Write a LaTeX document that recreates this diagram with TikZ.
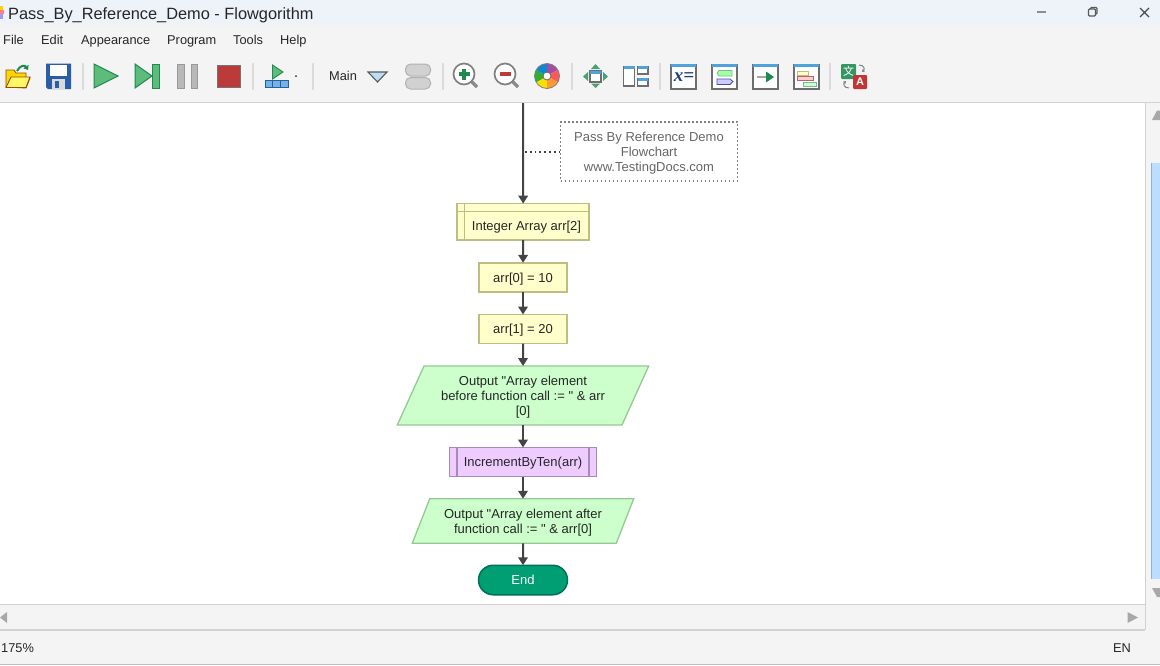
\documentclass[tikz,border=0pt]{standalone}
\usepackage{fontspec}
\setmainfont{Liberation Sans}[Ligatures=TeXOff]
\newfontfamily\cjkfont{Noto Sans CJK SC}
\newfontfamily\serifx{Liberation Serif}
\usetikzlibrary{shapes.geometric,shapes.misc,arrows.meta}
\definecolor{flowline}{HTML}{444444}
\definecolor{yfill}{HTML}{FFFFCC}
\definecolor{yedge}{HTML}{BDBD85}
\definecolor{gfill}{HTML}{CCFFCC}
\definecolor{gedge}{HTML}{96C896}
\definecolor{pfill}{HTML}{EECCFF}
\definecolor{pedge}{HTML}{A58CB4}
\definecolor{efill}{HTML}{009E73}
\definecolor{eedge}{HTML}{00705A}
\definecolor{chrome}{HTML}{F4F4F4}
\definecolor{titlebg}{HTML}{EEF3FA}
\definecolor{rulec}{HTML}{D2D2D2}
\definecolor{sbgrey}{HTML}{A8A8A8}
\definecolor{thumb}{HTML}{BBDDFF}
\definecolor{icongreen}{HTML}{5DBB7C}
\definecolor{icondark}{HTML}{1E8A50}
\definecolor{iconblue}{HTML}{4FA3DC}
\definecolor{icongrey}{HTML}{6E6E6E}
\definecolor{saveblue}{HTML}{2A5CA8}
\definecolor{stopred}{HTML}{BB3B3B}
\definecolor{tblue}{HTML}{BBDDF5}
\tikzset{
  x=1pt,y=-1pt,
  flowtext/.style={font=\fontsize{13}{15}\selectfont,text=black!85,inner sep=0pt,outer sep=0pt,align=center},
  procbox/.style={rectangle,inner sep=0pt,outer sep=0pt,draw=yedge,fill=yfill,line width=1.6pt},
  callbox/.style={rectangle,inner sep=0pt,outer sep=0pt,draw=pedge,fill=pfill,line width=1.6pt},
  outbox/.style={flowtext,trapezium,trapezium stretches=true,trapezium left angle=63.8,trapezium right angle=116.2,draw=gedge,fill=gfill,line width=1.3pt},
  endbox/.style={flowtext,text=white,rounded rectangle,draw=eedge,fill=efill,line width=1.5pt},
  notebox/.style={rectangle,inner sep=0pt,outer sep=0pt,draw=black!50,line width=1.6pt,dash pattern=on 1.8pt off 2.2pt},
  flow/.style={draw=flowline,line width=2pt,-{Triangle[width=9.5pt,length=8pt]}},
  uitext/.style={font=\fontsize{12.8}{15}\selectfont,text=black!85,inner sep=0pt,anchor=base west},
  sep/.style={draw=black!14,line width=1.1pt},
  winframe/.style={draw=icongrey,line width=1.2pt,fill=white},
}
\newcommand{\winicon}[1]{%
  \draw[winframe] (#1,64.5) rectangle ++(25,24.5);
  \fill[iconblue] (#1,64) rectangle ++(25,3);
}
\newcommand{\lowered}[1]{\raisebox{-1.8pt}[\height][\depth]{\begin{tabular}{@{}c@{}}#1\end{tabular}}}
\begin{document}
\begin{tikzpicture}
\useasboundingbox (0,0) rectangle (1160,665);
% window chrome
\fill[white] (0,0) rectangle (1160,665);
\fill[titlebg] (0,0) rectangle (1160,25);
\fill[chrome] (0,25) rectangle (1160,102);
\draw[rulec,line width=1.2pt] (0,102.5) -- (1160,102.5);
% title icon
\fill[yellow!70!orange] (0,6) rectangle (3,10);
\fill[red!50] (0,10) rectangle (4,14);
\fill[blue!40] (0,14) rectangle (3,19);
\node[anchor=base west,inner sep=0pt,font=\fontsize{16.35}{20}\selectfont,text=black!85] (title) at (8,19) {Pass\_By\_Reference\_Demo - Flowgorithm};
% window buttons
\draw[black!45,line width=1.3pt] (1037,12) -- (1046,12);
\draw[black!65,line width=1.1pt,rounded corners=1pt] (1088.5,9) rectangle (1095.5,16);
\draw[black!65,line width=1.1pt,rounded corners=1pt] (1090.5,9) -- (1090.5,7.5) -- (1097,7.5) -- (1097,14) -- (1095.5,14);
\draw[black!70,line width=1.1pt] (1140,8) -- (1149,17) (1149,8) -- (1140,17);
% menu
\node[uitext] (m1) at (3,44.5) {File};
\node[uitext] (m2) at (41,44.5) {Edit};
\node[uitext] (m3) at (81,44.5) {Appearance};
\node[uitext] (m4) at (167,44.5) {Program};
\node[uitext] (m5) at (233,44.5) {Tools};
\node[uitext] (m6) at (280,44.5) {Help};
% separators
\foreach \s in {83,253,313,443,572,660,830} \draw[sep] (\s,63) -- (\s,90);
% open
\draw[draw=orange!60!black,fill=yellow!75!orange,line width=.9pt] (6,87) -- (6,70) -- (14,70) -- (16,73) -- (26,73) -- (26,78) -- (30,78) -- (26,88) -- cycle;
\draw[draw=orange!60!black,fill=yellow!60,line width=.9pt] (6,87.5) -- (11,77) -- (30,77) -- (26,87.5) -- cycle;
\draw[icondark,line width=2pt,-{Triangle[width=6pt,length=4pt]}] (17,71) .. controls (20,65) and (25,65) .. (28,70);
% save
\fill[saveblue] (46,63.5) -- (71,63.5) -- (71,89) -- (48,89) -- (46,87) -- cycle;
\fill[white] (50,65) rectangle (67,76);
\fill[black!15] (52,79) rectangle (65,89);
\fill[saveblue] (55,81) rectangle (59,88);
% play etc
\draw[draw=icondark,fill=icongreen,line width=1pt] (94,64) -- (118,76) -- (94,88) -- cycle;
\draw[draw=icondark,fill=icongreen,line width=1pt] (135,64) -- (152,76) -- (135,88) -- cycle;
\draw[draw=icondark,fill=icongreen,line width=1pt] (152,64) rectangle (159,88);
\draw[draw=black!40,fill=black!28,line width=1pt] (177.5,64) rectangle (184,88);
\draw[draw=black!40,fill=black!28,line width=1pt] (191,64) rectangle (197.5,88);
\draw[draw=black!55,fill=stopred,line width=1pt] (217,65) rectangle (240,87.5);
% run speed
\draw[draw=icondark,fill=icongreen,line width=.9pt] (272.5,65) -- (283,72) -- (272.5,79) -- cycle;
\draw[draw=saveblue,fill=iconblue!80!white,line width=.9pt] (265,80) rectangle (288,87.5);
\draw[saveblue,line width=.9pt] (272.5,80) -- (272.5,87.5) (280.5,80) -- (280.5,87.5);
\fill[black!80] (296,76) circle (1pt);
% function selector
\node[uitext] (mainlabel) at (329,80.5) {Main};
\draw[draw=black!65,fill=tblue,line width=1.1pt] (368,72) -- (387,72) -- (377.5,82) -- cycle;
\draw[draw=black!30,fill=black!18,line width=1pt,rounded corners=5pt] (405.5,64) rectangle (430.5,76);
\draw[draw=black!30,fill=black!18,line width=1pt,rounded corners=5pt] (405.5,77.5) rectangle (430.5,89);
% zoom in / out
\draw[draw=black!45,line width=3.2pt] (471,81) -- (477,87);
\draw[draw=black!50,fill=white,line width=1.7pt] (464,74) circle (10.5);
\fill[icondark] (458.5,72) rectangle (469.5,76);
\fill[icondark] (462,68.5) rectangle (466,79.5);
\draw[draw=black!45,line width=3.2pt] (512,81) -- (518,87);
\draw[draw=black!50,fill=white,line width=1.7pt] (505,74) circle (10.5);
\fill[stopred] (499.5,72) rectangle (510.5,76);
% palette
\fill[violet!70!white] (547,76) -- +(-90:12.5) arc (-90:-30:12.5) -- cycle;
\fill[red!65!white] (547,76) -- +(-30:12.5) arc (-30:30:12.5) -- cycle;
\fill[orange!80!white] (547,76) -- +(30:12.5) arc (30:90:12.5) -- cycle;
\fill[yellow!80!orange] (547,76) -- +(90:12.5) arc (90:150:12.5) -- cycle;
\fill[green!60!black!80!white] (547,76) -- +(150:12.5) arc (150:210:12.5) -- cycle;
\fill[cyan!70!blue] (547,76) -- +(210:12.5) arc (210:270:12.5) -- cycle;
\draw[black!50,line width=.8pt] (547,76) circle (12.5);
\draw[black!60,fill=white,line width=.8pt] (547,76) circle (4);
% fit to view
\draw[winframe] (590,71) rectangle (601,82);
\fill[iconblue] (590,71) rectangle (601,73.5);
\fill[icondark!80!white] (595.5,64) -- (600,69) -- (591,69) -- cycle;
\fill[icondark!80!white] (595.5,88) -- (600,83.5) -- (591,83.5) -- cycle;
\fill[icondark!80!white] (583,76.5) -- (588,72) -- (588,81) -- cycle;
\fill[icondark!80!white] (608,76.5) -- (603,72) -- (603,81) -- cycle;
% layout
\draw[winframe] (623.5,66.5) rectangle (634.5,86);
\fill[iconblue] (623.5,66) rectangle (634.5,68.5);
\draw[winframe] (637.5,66.5) rectangle (648,74);
\fill[iconblue] (637.5,66) rectangle (648,68.5);
\draw[winframe] (637.5,78.5) rectangle (648,86);
\fill[iconblue] (637.5,78) rectangle (648,80.5);
% window icons
\winicon{671}
\node[inner sep=0pt,font=\serifx\bfseries\itshape\fontsize{19}{19}\selectfont,text=saveblue!70!black] (xeq) at (684,77.5) {x=};
\winicon{712}
\draw[draw=icondark!60!white,fill=gfill!80!green,line width=.8pt] (719,70.5) -- (732,70.5) -- (732,76) -- (719,76) -- (717,73) -- cycle;
\draw[draw=blue!50!black!70!white,fill=blue!20,line width=.8pt] (717,79) -- (730,79) -- (733,81.5) -- (730,84.5) -- (717,84.5) -- cycle;
\winicon{753}
\draw[black!35,line width=1.2pt] (757,77) -- (767,77);
\fill[icondark] (766,71.5) -- (774,77) -- (766,82.5) -- cycle;
\winicon{794}
\draw[draw=yedge,fill=yfill,line width=.9pt] (797.5,71) rectangle (808,75);
\draw[draw=red!50!black!60!white,fill=red!20,line width=.9pt] (797.5,76.5) rectangle (813,80.5);
\draw[draw=icondark!60!white,fill=gfill,line width=.9pt] (803,82) rectangle (816,86);
% translate
\fill[icondark!90!white,rounded corners=1pt] (841,64) rectangle (856,79);
\node[inner sep=0pt,text=white,font=\cjkfont\fontsize{11}{11}\selectfont] (zh) at (848.5,71.5) {文};
\draw[black!50,line width=1pt,-{Triangle[width=3pt,length=2.5pt]}] (859,65) .. controls (864,65) and (865,69) .. (862,72);
\draw[black!50,line width=1pt,-{Triangle[width=3pt,length=2.5pt]}] (849,88) .. controls (844,88) and (843,84) .. (846,81);
\fill[stopred!90!red,rounded corners=1pt] (853,75) rectangle (867,89);
\node[inner sep=0pt,text=white,font=\bfseries\fontsize{11}{11}\selectfont] (en) at (860,82) {A};
% scrollbars
\fill[chrome] (1146,103) rectangle (1160,631);
\draw[rulec,line width=.8pt] (1145.5,103) -- (1145.5,605);
\fill[sbgrey] (1157,110.5) -- (1160,110.5) -- (1160,120) -- (1152,120) -- cycle;
\fill[thumb] (1151,163) rectangle (1160,579);
\draw[thumb!80!black,line width=.6pt] (1151.3,163) -- (1151.3,579);
\fill[sbgrey] (1152,588) -- (1160,588) -- (1160,597) -- (1157,597) -- cycle;
\fill[chrome] (0,605) rectangle (1145,630);
\draw[rulec,line width=1.4pt] (0,604.7) -- (1145,604.7);
\draw[rulec,line width=1.2pt] (0,630) -- (1145,630);
\draw[rulec,line width=.8pt] (1145,605) -- (1145,630);
\fill[sbgrey] (0,617.5) -- (7,612) -- (7,623) -- cycle;
\fill[sbgrey] (1127.5,612) -- (1138,617.5) -- (1127.5,623) -- cycle;
% status bar
\fill[chrome] (0,631) rectangle (1160,664);
\draw[black!25,line width=1.2pt] (0,664.4) -- (1160,664.4);
\node[uitext] (zoomlabel) at (1,652) {175\%};
\node[uitext] (langlabel) at (1113,652) {EN};
% flowchart
\coordinate (top) at (523,103);
\node[procbox,minimum width=132,minimum height=36.5] (decl) at (523.2,221.8) {};
\node[flowtext] (decllabel) at (526.5,227.1) {Integer Array arr[2]};
\draw[yedge,line width=1.3pt] ([xshift=7pt]decl.north west) -- ([xshift=7pt]decl.south west);
\draw[yedge,line width=1.3pt] ([yshift=-8pt]decl.north west) -- ([yshift=-8pt]decl.north east);
\node[procbox,minimum width=88.5,minimum height=29] (a0) at (523,277.3) {};
\node[flowtext] (a0label) at (523,278.9) {arr[0] = 10};
\node[procbox,minimum width=88.5,minimum height=29] (a1) at (523,329) {};
\node[flowtext] (a1label) at (523,330.6) {arr[1] = 20};
\node[outbox,minimum width=252,minimum height=59] (o1) at (523,395.5) {\lowered{Output "Array element\\before function call := " \& arr\\{[0]}}};
\node[callbox,minimum width=147,minimum height=29] (call) at (523,462) {};
\node[flowtext] (calllabel) at (523,463.6) {IncrementByTen(arr)};
\draw[pedge,line width=1.2pt] ([xshift=7.5pt]call.north west) -- ([xshift=7.5pt]call.south west);
\draw[pedge,line width=1.2pt] ([xshift=-7.5pt]call.north east) -- ([xshift=-7.5pt]call.south east);
\node[outbox,minimum width=222,minimum height=44.5] (o2) at (523,521) {\lowered{Output "Array element after\\function call := " \& arr[0]}};
\node[endbox,minimum width=89,minimum height=29.5] (endn) at (523,580) {End};
\node[notebox,minimum width=177,minimum height=59] (note) at (649,151.7) {};
\node[flowtext,text=black!60] (notelabel) at (649,153.2) {Pass By Reference Demo\\Flowchart\\www.TestingDocs.com};
\draw[flow] (top) -- (decl);
\draw[flow] (decl) -- (a0);
\draw[flow] (a0) -- (a1);
\draw[flow] (a1) -- (o1);
\draw[flow] (o1) -- (call);
\draw[flow] (call) -- (o2);
\draw[flow] (o2) -- (endn);
\coordinate (tap) at (525,151.7);
\draw[flowline,line width=1.6pt,dash pattern=on 1.8pt off 3pt] (tap) -- (note);
\end{tikzpicture}
\end{document}
